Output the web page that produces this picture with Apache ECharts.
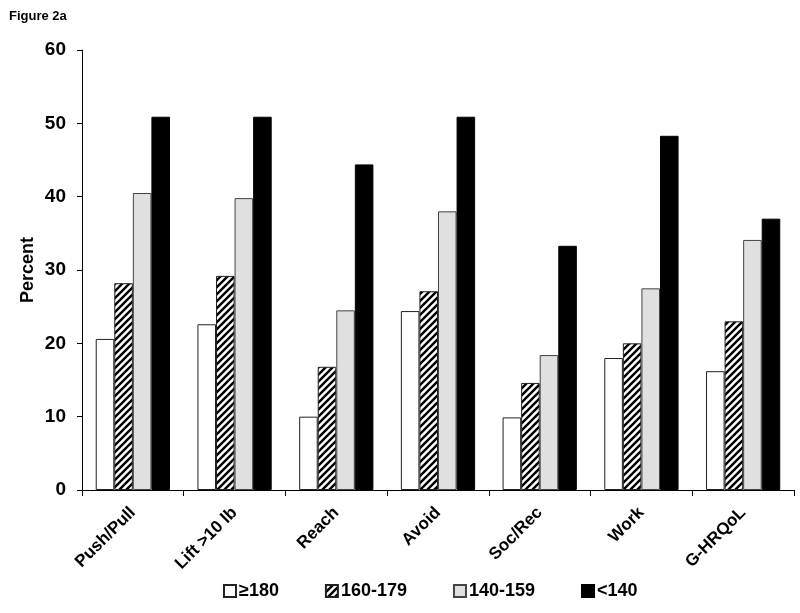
<!DOCTYPE html>
<html>
<head>
<meta charset="utf-8">
<script src="https://cdn.jsdelivr.net/npm/echarts@6/dist/echarts.min.js"></script>
<style>
html,body{margin:0;padding:0;background:#fff;}
#chart{width:800px;height:613px;}
</style>
</head>
<body>
<div id="chart"></div>
<script>
const categories = ['Push/Pull', 'Lift >10 lb', 'Reach', 'Avoid', 'Soc/Rec', 'Work', 'G-HRQoL'];
const seriesNames = ['≥180', '160-179', '140-159', '<140'];
const s180 = [20.6, 22.6, 10.0, 24.4, 9.9, 18.0, 16.2];
const s160 = [28.2, 29.2, 16.8, 27.1, 14.6, 20.0, 23.0];
const s140 = [40.5, 39.8, 24.5, 38.0, 18.4, 27.5, 34.1];
const sLt140 = [50.9, 50.9, 44.4, 50.9, 33.3, 48.3, 37.0];
const yTicks = [0, 10, 20, 30, 40, 50, 60];

function hatch() {
  const c = document.createElement('canvas');
  c.width = 7; c.height = 7;
  const ctx = c.getContext('2d');
  ctx.fillStyle = '#fff';
  ctx.fillRect(0, 0, 7, 7);
  ctx.strokeStyle = '#000';
  ctx.lineWidth = 2.4;
  ctx.beginPath();
  ctx.moveTo(-2, 9); ctx.lineTo(9, -2);
  ctx.moveTo(-9, 9); ctx.lineTo(2, -2);
  ctx.moveTo(5, 9); ctx.lineTo(16, -2);
  ctx.stroke();
  return c;
}

const fills = ['#ffffff', {image: hatch(), repeat: 'repeat'}, '#e0e0e0', '#000000'];
const borders = ['#222', '#222', '#444', '#000'];
const data = [s180, s160, s140, sLt140];

const chart = echarts.init(document.getElementById('chart'), null, {renderer: 'canvas'});
chart.setOption({
  animation: false,
  title: {
    text: 'Figure 2a', left: 4, top: 5,
    textStyle: {fontFamily: 'Liberation Sans, Arial', fontWeight: 'bold', fontSize: 13, color: '#000'}
  },
  grid: {left: 82, right: 6, top: 50, bottom: 123, containLabel: false},
  legend: {
    bottom: 8, left: 218, itemWidth: 12, itemHeight: 12, itemGap: 46,
    icon: 'rect',
    textStyle: {fontFamily: 'Liberation Sans, Arial', fontWeight: 'bold', fontSize: 18, color: '#000', padding: [0, 0, 0, -2]},
    data: seriesNames
  },
  xAxis: {
    type: 'category', data: categories,
    axisLine: {lineStyle: {color: '#000', width: 1}},
    axisTick: {show: true, alignWithLabel: false, length: 6, lineStyle: {color: '#000'}},
    axisLabel: {rotate: 45, interval: 0, margin: 20, color: '#000', fontFamily: 'Liberation Sans, Arial', fontWeight: 'bold', fontSize: 17}
  },
  yAxis: {
    type: 'value', min: 0, max: 60, interval: 10,
    name: 'Percent', nameLocation: 'middle', nameGap: 45, nameMoveOverlap: false,
    nameTextStyle: {fontFamily: 'Liberation Sans, Arial', fontWeight: 'bold', fontSize: 18, color: '#000'},
    axisLine: {show: true, lineStyle: {color: '#000', width: 1}},
    axisTick: {show: true, inside: false, length: 5, lineStyle: {color: '#000'}},
    splitLine: {show: false},
    axisLabel: {margin: 16, color: '#000', fontFamily: 'Liberation Sans, Arial', fontWeight: 'bold', fontSize: 19,
      formatter: v => yTicks.includes(v) ? String(v) : ''}
  },
  series: seriesNames.map((n, i) => ({
    name: n, type: 'bar', data: data[i],
    barGap: '0%', barCategoryGap: '27%',
    itemStyle: {color: fills[i], borderColor: borders[i], borderWidth: 1}
  }))
});
</script>
</body>
</html>
